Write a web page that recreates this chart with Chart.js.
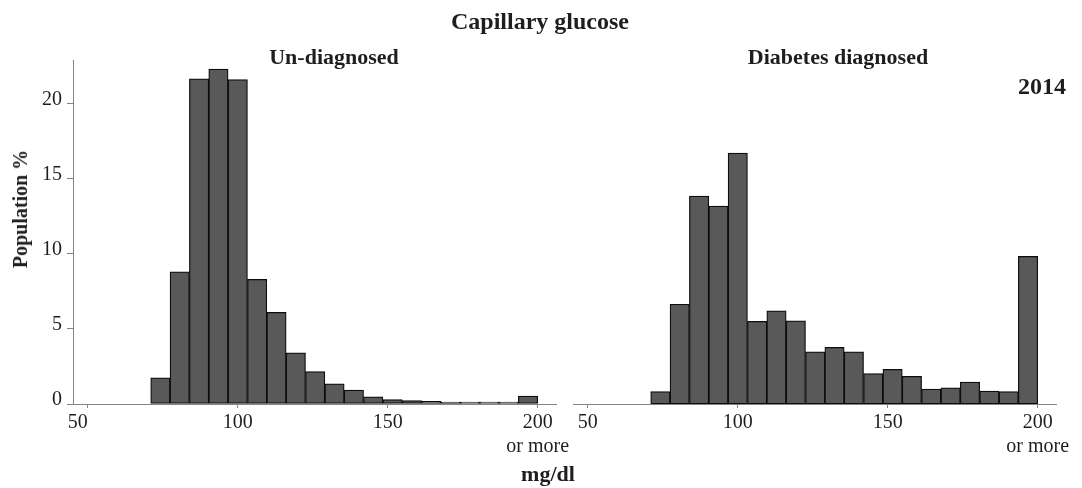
<!DOCTYPE html>
<html>
<head>
<meta charset="utf-8">
<title>Capillary glucose</title>
<script src="https://cdn.jsdelivr.net/npm/chart.js@4.4.1/dist/chart.umd.min.js"></script>
<style>
  html, body { margin: 0; padding: 0; background: #fff; }
  #wrap {
    position: relative; width: 1082px; height: 488px; overflow: hidden;
    font-family: 'Liberation Serif', 'Times New Roman', serif; color: #1e1e1e;
  }
  #wrap canvas { position: absolute; left: 0; top: 0; }
  .lbl {
    position: absolute; white-space: nowrap; line-height: 1;
    font-weight: bold; transform: translateX(-50%);
  }
</style>
</head>
<body>
<div id="wrap">
  <canvas id="chartLeft" width="1082" height="488"></canvas>
  <canvas id="chartRight" width="1082" height="488"></canvas>
  <div class="lbl" style="left:540px; top:9px; font-size:24px;">Capillary glucose</div>
  <div class="lbl" style="left:334px; top:46px; font-size:22px;">Un-diagnosed</div>
  <div class="lbl" style="left:838px; top:46px; font-size:22px;">Diabetes diagnosed</div>
  <div class="lbl" style="left:1042px; top:74px; font-size:24px;">2014</div>
  <div class="lbl" style="left:548px; top:463px; font-size:22px;">mg/dl</div>
  <div class="lbl" style="left:20px; top:209px; font-size:20px; transform: translate(-50%, -50%) rotate(-90deg);">Population %</div>
</div>

<script>
// histogram bins (mg/dl), 20 bins from 71 up to "200 or more"
const binCenters = [
  74.225, 80.675, 87.125, 93.575, 100.025, 106.475, 112.925, 119.375, 125.825, 132.275,
  138.725, 145.175, 151.625, 158.075, 164.525, 170.975, 177.425, 183.875, 190.325, 196.775
];

// % of population in each bin
const undiagnosed = [
  1.75, 8.8, 21.65, 22.3, 21.6, 8.3, 6.1, 3.4, 2.15, 1.35,
  0.92, 0.48, 0.3, 0.23, 0.17, 0.13, 0.12, 0.12, 0.12, 0.52
];
const diagnosed = [
  0.82, 6.64, 13.84, 13.18, 16.7, 5.5, 6.2, 5.53, 3.48, 3.77,
  3.48, 2.02, 2.3, 1.84, 1.0, 1.08, 1.46, 0.86, 0.82, 9.83
];

const xTicks = [50, 100, 150, 200];
const xTickLabelsLeft = ['50\u2003', '100', '150', ['200', 'or more']];
const xTickLabelsRight = ['50', '100', '150', ['200', 'or more']];
const yTicks = [0, 5, 10, 15, 20];

const X_MIN = 45.1;
const X_MAX = 206.1;
const Y_MAX = 22.9;

const BAR_FILL = '#595959';
const BAR_EDGE = '#0d0d0d';
const AXIS = '#858585';
const INK = '#1e1e1e';
const tickFont = { family: "'Liberation Serif', 'Times New Roman', serif", size: 20 };

function buildPanel(canvasId, values, tickLabels, area, withY) {
  const yScale = withY ? {
    min: 0, max: Y_MAX,
    afterBuildTicks: s => { s.ticks = yTicks.map(v => ({ value: v })); },
    afterFit: s => { s.width = area.left; },
    grid: { drawOnChartArea: false, tickLength: 6, color: AXIS },
    border: { color: AXIS, width: 1 },
    ticks: { padding: 5, color: INK, font: tickFont, labelOffset: -4 },
  } : { display: false, min: 0, max: Y_MAX };

  return new Chart(document.getElementById(canvasId), {
    type: 'bar',
    data: {
      datasets: [{
        data: binCenters.map((x, i) => ({ x, y: values[i] })),
        backgroundColor: BAR_FILL,
        borderColor: BAR_EDGE,
        borderWidth: 1.25,
        borderSkipped: false,
        barPercentage: 1,
        categoryPercentage: 1,
      }],
    },
    options: {
      responsive: false,
      animation: false,
      devicePixelRatio: 1,
      layout: {
        padding: { left: withY ? 0 : area.left, right: 1082 - area.right, top: 60, bottom: 0 },
      },
      plugins: { legend: { display: false }, tooltip: { enabled: false } },
      scales: {
        x: {
          type: 'linear',
          min: X_MIN, max: X_MAX,
          offset: false,
          afterBuildTicks: s => { s.ticks = xTicks.map(v => ({ value: v })); },
          afterFit: s => { s.height = 84; },
          grid: { offset: false, drawOnChartArea: false, drawTicks: true, tickLength: 4, color: AXIS },
          border: { color: AXIS, width: 1 },
          ticks: {
            padding: 3, maxRotation: 0, autoSkip: false, color: INK, font: tickFont,
            callback: (v, i) => tickLabels[i],
          },
        },
        y: yScale,
      },
    },
  });
}

buildPanel('chartLeft', undiagnosed, xTickLabelsLeft, { left: 73, right: 556 }, true);
buildPanel('chartRight', diagnosed, xTickLabelsRight, { left: 573, right: 1056 }, false);
</script>
</body>
</html>
